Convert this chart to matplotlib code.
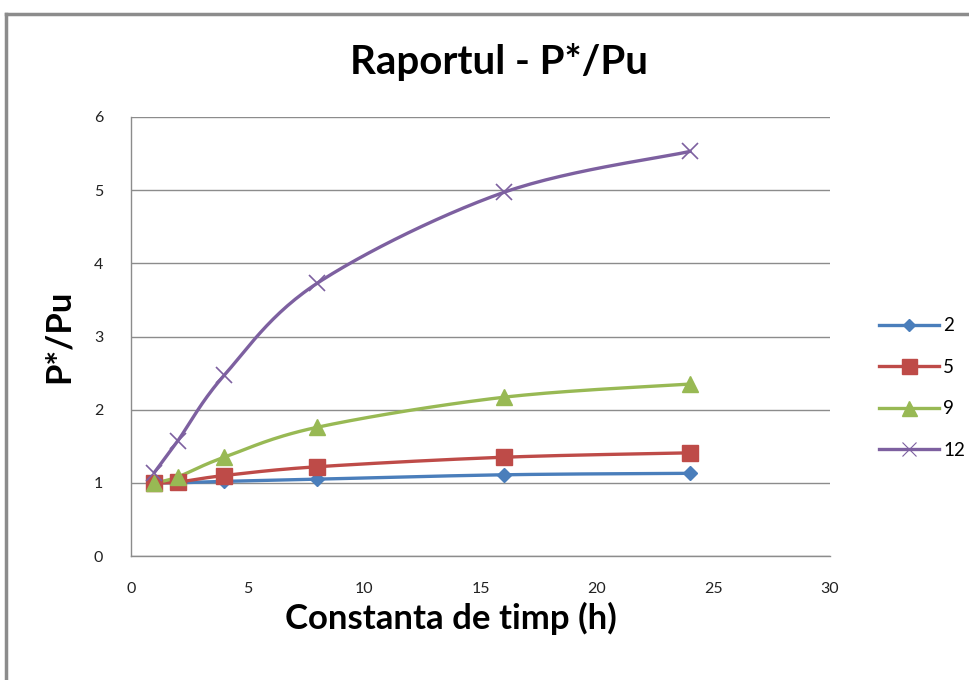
import numpy as np
import matplotlib
matplotlib.use("Agg")
import matplotlib.pyplot as plt
from matplotlib.lines import Line2D

# ---- data ----
x_hours = [1, 2, 4, 8, 16, 24]
series_names = ["2", "5", "9", "12"]
s2 = [1.00, 1.00, 1.02, 1.05, 1.11, 1.13]
s5 = [1.00, 1.01, 1.10, 1.22, 1.35, 1.41]
s9 = [1.00, 1.08, 1.35, 1.76, 2.17, 2.35]
s12 = [1.14, 1.57, 2.47, 3.73, 4.97, 5.53]
x_ticks = [0, 5, 10, 15, 20, 25, 30]
y_ticks = [0, 1, 2, 3, 4, 5, 6]

colors = ["#4A7EBB", "#BE4B48", "#98B954", "#7D60A0"]
markers = ["D", "s", "^", "x"]
msizes = [7, 12, 12, 11]

FONT = ["Lato", "DejaVu Sans"]
plt.rcParams['font.family'] = FONT

fig = plt.figure(figsize=(9.7, 6.8), dpi=100)
fig.patch.set_facecolor("white")

# outer chart border (top and left visible)
fig.add_artist(Line2D([6/970, 1.0], [1-14/680, 1-14/680], color="#8c8c8c", lw=2.5,
                      transform=fig.transFigure))
fig.add_artist(Line2D([6/970, 6/970], [0.0, 1-14/680], color="#8c8c8c", lw=2.5,
                      transform=fig.transFigure))

ax = fig.add_axes([131/970, 1-556/680, (830-131)/970, (556-117)/680])
ax.set_xlim(0, 30)
ax.set_ylim(0, 6)

# scale factors to do smoothing in (approx) screen space
sx = 699/30.0
sy = 439/6.0

def smooth(xs, ys, n=30):
    px = np.array(xs, float) * sx
    py = np.array(ys, float) * sy
    P = np.stack([px, py], axis=1)
    out = []
    m = len(P)
    for i in range(m - 1):
        p0 = P[i - 1] if i > 0 else P[i]
        p1 = P[i]
        p2 = P[i + 1]
        p3 = P[i + 2] if i + 2 < m else P[i + 1]
        c1 = p1 + (p2 - p0) / 6.0
        c2 = p2 - (p3 - p1) / 6.0
        t = np.linspace(0, 1, n)[:, None]
        seg = ((1 - t) ** 3) * p1 + 3 * ((1 - t) ** 2) * t * c1 + 3 * (1 - t) * t ** 2 * c2 + t ** 3 * p2
        out.append(seg if i == 0 else seg[1:])
    out = np.concatenate(out)
    return out[:, 0] / sx, out[:, 1] / sy

all_series = [s2, s5, s9, s12]
handles = []
for name, ys, c, mk, ms in zip(series_names, all_series, colors, markers, msizes):
    cx, cy = smooth(x_hours, ys)
    ax.plot(cx, cy, color=c, lw=2.4, solid_capstyle="round", zorder=3)
    if mk == "x":
        ax.plot(x_hours, ys, linestyle="none", marker=mk, markersize=ms,
                markeredgecolor=c, markeredgewidth=1.2, zorder=4)
    else:
        ax.plot(x_hours, ys, linestyle="none", marker=mk, markersize=ms,
                markerfacecolor=c, markeredgecolor=c, zorder=4)
    handles.append(Line2D([0], [0], color=c, lw=2.4, marker=mk,
                          markersize=ms * 0.9,
                          markerfacecolor=c, markeredgecolor=c,
                          markeredgewidth=0.8 if mk == "x" else 1.0))

ax.set_xticks(x_ticks)
ax.set_yticks(y_ticks)
ax.yaxis.grid(True, color="#8c8c8c", lw=1.0)
ax.set_axisbelow(True)
for s in ["top", "right"]:
    ax.spines[s].set_visible(False)
for s in ["left", "bottom"]:
    ax.spines[s].set_color("#8c8c8c")
    ax.spines[s].set_linewidth(1.0)
ax.tick_params(axis="both", length=0, labelsize=11.5, colors="#222222")
ax.tick_params(axis="x", pad=19)
ax.tick_params(axis="y", pad=20)

ax.set_xlabel("Constanta de timp (h)", fontsize=25, fontweight="bold", va="center")
ax.xaxis.set_label_coords((451-131)/699, (556-618)/439)
ax.set_ylabel("P*/Pu", fontsize=25, fontweight="bold", labelpad=14)

fig.text(499/970, 1-62/680, "Raportul - P*/Pu", ha="center", va="center",
         fontsize=29, fontweight="bold")

leg = fig.legend(handles, series_names, loc="center left",
                 bbox_to_anchor=(872/970, 1-388/680), frameon=False,
                 fontsize=13.5, handlelength=3.2, handletextpad=0.2,
                 labelspacing=1.3, borderaxespad=0)

fig.savefig("out.png", dpi=100, facecolor="white")
